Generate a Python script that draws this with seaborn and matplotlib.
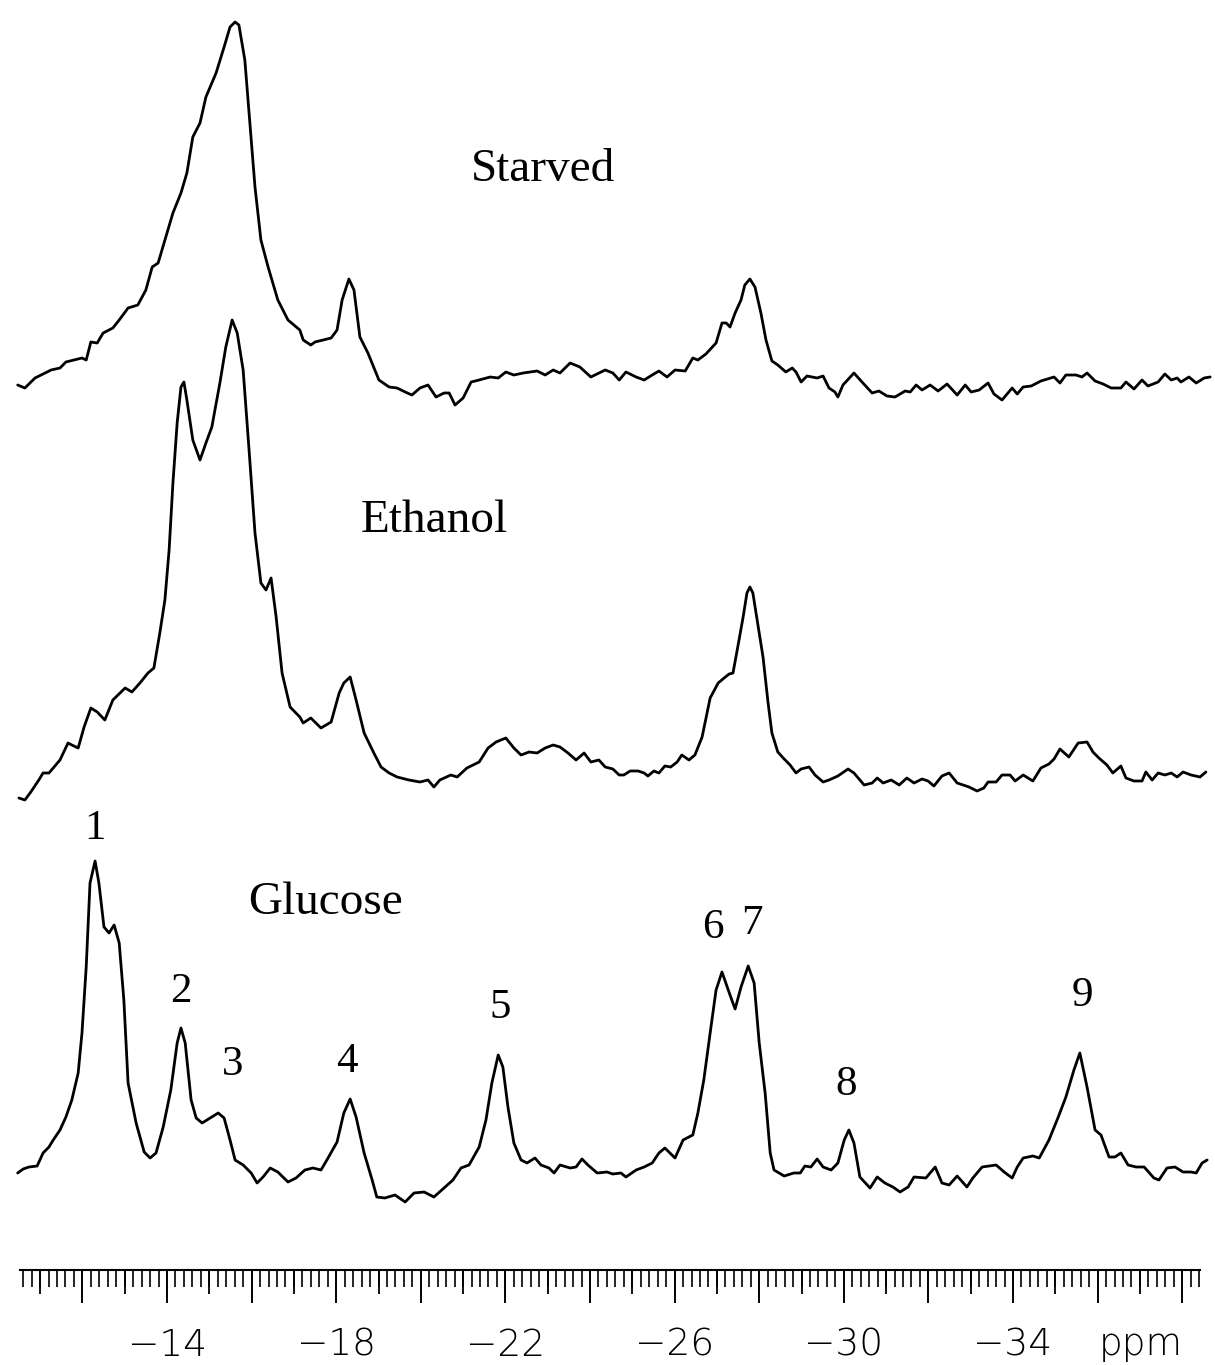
import numpy as np
import pandas as pd
import matplotlib
matplotlib.use("Agg")
import matplotlib.pyplot as plt
from matplotlib.ticker import FixedLocator, FuncFormatter
import seaborn as sns

# ---------------------------------------------------------------------------
# Spectra: chemical shift (ppm) and intensity (arbitrary units above baseline)
# ---------------------------------------------------------------------------
starved_ppm = [
    -10.47, -10.64, -10.88, -11.26, -11.47, -11.61, -11.99, -12.09, -12.20, -12.35,
    -12.49, -12.72, -12.87, -13.08, -13.31, -13.50, -13.65, -13.79, -14.00, -14.14,
    -14.33, -14.47, -14.61, -14.78, -14.92, -15.16, -15.35, -15.49, -15.61, -15.70,
    -15.84, -15.99, -16.08, -16.22, -16.39, -16.62, -16.86, -17.14, -17.22, -17.40,
    -17.50, -17.88, -18.02, -18.14, -18.30, -18.42, -18.56, -18.75, -19.01, -19.25,
    -19.44, -19.63, -19.79, -19.98, -20.17, -20.36, -20.55, -20.67, -20.81, -21.00,
    -21.19, -21.38, -21.64, -21.83, -22.01, -22.20, -22.42, -22.75, -22.94, -23.13,
    -23.29, -23.53, -23.76, -24.02, -24.36, -24.54, -24.69, -24.85, -25.09, -25.28,
    -25.47, -25.63, -25.82, -26.01, -26.25, -26.43, -26.55, -26.74, -26.98, -27.12,
    -27.22, -27.31, -27.43, -27.57, -27.66, -27.78, -27.90, -28.04, -28.16, -28.30,
    -28.44, -28.63, -28.78, -28.87, -28.99, -29.13, -29.37, -29.51, -29.65, -29.79,
    -29.86, -29.98, -30.24, -30.43, -30.67, -30.83, -31.02, -31.21, -31.45, -31.57,
    -31.71, -31.85, -32.04, -32.23, -32.44, -32.68, -32.87, -33.01, -33.20, -33.41,
    -33.55, -33.74, -33.98, -34.10, -34.24, -34.43, -34.66, -34.97, -35.11, -35.25,
    -35.49, -35.63, -35.75, -35.94, -36.13, -36.32, -36.55, -36.67, -36.86, -37.05,
    -37.19, -37.43, -37.59, -37.74, -37.88, -37.97, -38.16, -38.33, -38.52, -38.66,
]
starved_int = [
    15, 12, 22, 30, 32, 38, 42, 40, 58, 57,
    67, 72, 80, 92, 95, 110, 133, 137, 167, 187,
    207, 227, 263, 277, 303, 327, 353, 373, 378, 375,
    340, 260, 213, 160, 133, 100, 80, 70, 60, 55,
    58, 62, 70, 100, 121, 110, 63, 47, 20, 13,
    12, 8, 5, 12, 15, 3, 7, 7, -5, 2,
    18, 20, 23, 22, 28, 25, 27, 29, 25, 30,
    27, 37, 33, 23, 30, 27, 20, 28, 23, 20,
    25, 29, 23, 30, 29, 42, 40, 46, 57, 77,
    77, 73, 87, 100, 115, 121, 113, 87, 60, 39,
    35, 28, 32, 28, 18, 24, 22, 24, 12, 8,
    3, 15, 27, 18, 7, 9, 4, 3, 9, 8,
    15, 10, 15, 9, 16, 5, 15, 8, 10, 17,
    6, 0, 12, 6, 13, 14, 19, 23, 17, 25,
    25, 23, 27, 19, 16, 12, 12, 18, 11, 20,
    14, 18, 26, 20, 22, 18, 23, 17, 22, 23,
]

ethanol_ppm = [
    -10.50, -10.64, -10.78, -10.97, -11.07, -11.21, -11.33, -11.47, -11.66, -11.75,
    -11.90, -12.04, -12.20, -12.35, -12.53, -12.72, -13.01, -13.17, -13.36, -13.55,
    -13.69, -13.83, -13.95, -14.05, -14.14, -14.24, -14.33, -14.40, -14.47, -14.61,
    -14.78, -14.92, -15.06, -15.25, -15.39, -15.54, -15.66, -15.80, -15.94, -16.08,
    -16.22, -16.34, -16.46, -16.58, -16.72, -16.91, -17.14, -17.22, -17.40, -17.64,
    -17.88, -18.07, -18.18, -18.33, -18.47, -18.66, -18.89, -19.06, -19.25, -19.44,
    -19.72, -19.98, -20.17, -20.31, -20.45, -20.71, -20.86, -21.09, -21.38, -21.59,
    -21.78, -22.01, -22.20, -22.37, -22.56, -22.75, -22.94, -23.13, -23.29, -23.48,
    -23.67, -23.86, -24.02, -24.21, -24.36, -24.54, -24.69, -24.80, -24.95, -25.14,
    -25.28, -25.37, -25.51, -25.63, -25.77, -25.91, -26.06, -26.17, -26.34, -26.48,
    -26.65, -26.84, -27.03, -27.17, -27.29, -27.38, -27.48, -27.62, -27.71, -27.78,
    -27.85, -27.99, -28.09, -28.21, -28.30, -28.44, -28.59, -28.73, -28.87, -28.99,
    -29.18, -29.32, -29.51, -29.65, -29.86, -30.10, -30.24, -30.48, -30.67, -30.79,
    -30.93, -31.12, -31.31, -31.49, -31.66, -31.85, -31.99, -32.13, -32.32, -32.49,
    -32.68, -32.96, -33.15, -33.31, -33.41, -33.60, -33.74, -33.93, -34.05, -34.24,
    -34.47, -34.66, -34.85, -34.97, -35.11, -35.32, -35.54, -35.75, -35.89, -36.03,
    -36.22, -36.36, -36.55, -36.67, -36.86, -37.05, -37.14, -37.29, -37.43, -37.59,
    -37.74, -37.88, -38.02, -38.21, -38.42, -38.56,
]
ethanol_int = [
    2, 0, 8, 20, 27, 27, 33, 40, 57, 55,
    52, 73, 92, 88, 80, 100, 112, 108, 117, 127,
    132, 167, 200, 250, 317, 377, 413, 418, 400, 360,
    340, 357, 373, 417, 453, 480, 467, 430, 350, 267,
    217, 210, 222, 183, 127, 93, 83, 77, 82, 72,
    78, 107, 117, 123, 100, 67, 47, 33, 27, 23,
    20, 18, 20, 13, 20, 25, 23, 32, 38, 52,
    58, 62, 52, 45, 48, 47, 52, 55, 53, 47,
    40, 47, 38, 40, 33, 31, 25, 25, 29, 29,
    27, 24, 29, 27, 34, 33, 38, 45, 40, 45,
    63, 102, 117, 122, 126, 127, 150, 183, 207, 213,
    207, 170, 143, 97, 67, 48, 41, 35, 27, 31,
    33, 25, 18, 20, 24, 31, 27, 15, 17, 22,
    17, 20, 15, 22, 17, 21, 19, 14, 24, 27,
    17, 13, 9, 12, 18, 18, 25, 25, 19, 25,
    19, 32, 36, 41, 51, 43, 57, 58, 48, 42,
    35, 27, 34, 22, 19, 19, 28, 20, 27, 25,
    27, 23, 28, 25, 23, 28,
]

glucose_ppm = [
    -10.47, -10.60, -10.74, -10.93, -11.07, -11.21, -11.31, -11.47, -11.61, -11.75,
    -11.90, -11.99, -12.09, -12.18, -12.30, -12.39, -12.51, -12.63, -12.75, -12.87,
    -12.98, -13.08, -13.27, -13.46, -13.60, -13.74, -13.91, -14.09, -14.24, -14.33,
    -14.43, -14.57, -14.69, -14.83, -15.02, -15.21, -15.35, -15.49, -15.61, -15.80,
    -15.99, -16.13, -16.27, -16.44, -16.62, -16.86, -17.05, -17.26, -17.45, -17.64,
    -17.78, -18.02, -18.18, -18.33, -18.47, -18.66, -18.85, -18.96, -19.15, -19.39,
    -19.63, -19.84, -20.08, -20.31, -20.55, -20.76, -20.95, -21.14, -21.38, -21.54,
    -21.68, -21.83, -21.94, -22.06, -22.20, -22.37, -22.51, -22.70, -22.84, -23.03,
    -23.15, -23.29, -23.53, -23.67, -23.81, -23.95, -24.17, -24.40, -24.54, -24.73,
    -24.85, -25.09, -25.28, -25.47, -25.63, -25.77, -26.01, -26.20, -26.43, -26.55,
    -26.69, -26.84, -26.98, -27.12, -27.31, -27.43, -27.57, -27.74, -27.88, -28.00,
    -28.14, -28.26, -28.35, -28.59, -28.82, -28.97, -29.08, -29.22, -29.37, -29.51,
    -29.70, -29.86, -30.01, -30.12, -30.24, -30.38, -30.62, -30.79, -30.97, -31.16,
    -31.33, -31.52, -31.66, -31.94, -32.16, -32.32, -32.49, -32.68, -32.91, -33.05,
    -33.27, -33.60, -33.79, -33.98, -34.10, -34.24, -34.47, -34.62, -34.85, -35.07,
    -35.25, -35.44, -35.58, -35.75, -35.94, -36.08, -36.27, -36.41, -36.55, -36.72,
    -36.91, -37.10, -37.33, -37.45, -37.64, -37.83, -38.02, -38.21, -38.33, -38.47,
    -38.59,
]
glucose_int = [
    37, 41, 43, 44, 57, 63, 70, 80, 93, 110,
    137, 177, 243, 327, 349, 327, 283, 277, 285, 267,
    210, 127, 87, 58, 52, 57, 83, 120, 167, 182,
    167, 110, 92, 87, 92, 97, 92, 70, 50, 45,
    37, 27, 33, 42, 38, 28, 32, 40, 42, 40,
    50, 68, 97, 111, 93, 57, 30, 13, 12, 15,
    8, 17, 18, 13, 22, 30, 42, 45, 63, 90,
    127, 155, 143, 103, 67, 50, 47, 52, 45, 42,
    37, 45, 42, 43, 51, 45, 37, 38, 36, 37,
    33, 40, 43, 47, 57, 62, 52, 70, 75, 97,
    130, 177, 220, 238, 215, 201, 223, 244, 227, 167,
    117, 57, 40, 34, 37, 37, 44, 43, 51, 43,
    40, 47, 70, 80, 67, 33, 22, 33, 27, 23,
    18, 23, 33, 32, 43, 27, 25, 34, 23, 32,
    43, 45, 38, 32, 43, 52, 54, 52, 70, 93,
    113, 140, 157, 123, 80, 75, 53, 53, 57, 45,
    43, 43, 32, 30, 42, 43, 38, 38, 37, 47,
    50,
]

conditions = ["Starved", "Ethanol", "Glucose"]
peak_numbers = ["1", "2", "3", "4", "5", "6", "7", "8", "9"]
axis_labels = [-14, -18, -22, -26, -30, -34]

# ---------------------------------------------------------------------------
# Layout (figure pixels: 1215 x 1365)
# ---------------------------------------------------------------------------
W, H = 1215, 1365
PPM_LEFT, PPM_RIGHT = -10.052, -38.775
trace_offsets = {"Starved": 965, "Ethanol": 565, "Glucose": 155}
condition_label_xy = {"Starved": (543, 170), "Ethanol": (434, 521), "Glucose": (326, 903)}
peak_label_xy = [(95, 829), (181, 992), (233, 1065), (347, 1062), (500, 1008),
                 (713, 928), (752, 924), (846, 1085), (1082, 996)]

sns.set_style("white")
plt.rcParams.update({
    "font.family": ["DejaVu Sans"],
    "text.color": "black",
    "xtick.color": "black",
    "xtick.bottom": True,
    "axes.edgecolor": "black",
})

fig = plt.figure(figsize=(W / 100, H / 100), dpi=100)
ax = fig.add_axes([0, 0, 1, 1])
ax.set_xlim(PPM_LEFT, PPM_RIGHT)
ax.set_ylim(0, H)
ax.axis("off")

spectra = {
    "Starved": (starved_ppm, starved_int),
    "Ethanol": (ethanol_ppm, ethanol_int),
    "Glucose": (glucose_ppm, glucose_int),
}
frames = []
for name in conditions:
    ppm, inten = spectra[name]
    frames.append(pd.DataFrame({
        "ppm": ppm,
        "y": np.asarray(inten, float) + trace_offsets[name],
        "condition": name,
    }))
df = pd.concat(frames, ignore_index=True)

for name in conditions:
    sub = df[df["condition"] == name]
    sns.lineplot(data=sub, x="ppm", y="y", ax=ax, color="black", linewidth=2.0,
                 sort=False, estimator=None, legend=False)
for ln in ax.get_lines():
    ln.set_solid_joinstyle("round")
    ln.set_solid_capstyle("round")

serif = ["Liberation Serif", "DejaVu Serif"]
for name in conditions:
    px, py = condition_label_xy[name]
    ax.text(px / W, 1 - py / H, name, transform=ax.transAxes, ha="center", va="center",
            fontsize=34, family=serif, color="black")
for lab, (px, py) in zip(peak_numbers, peak_label_xy):
    ax.text(px / W, 1 - py / H, lab, transform=ax.transAxes, ha="center", va="center",
            fontsize=31, family=serif, color="black")

# ---------------------------------------------------------------------------
# ppm ruler: long ticks every 2 ppm, medium every odd ppm, short every 0.2 ppm
# ---------------------------------------------------------------------------
ruler_y = 1 - 1270 / H
ruler = fig.add_axes([0, ruler_y, 1, 0.0005])
ruler_mid = fig.add_axes([0, ruler_y, 1, 0.0005])
for r in (ruler, ruler_mid):
    r.set_xlim(PPM_LEFT, PPM_RIGHT)
    r.set_ylim(0, 1)
    r.patch.set_alpha(0)
    r.set_yticks([])
    for s in ("top", "left", "right"):
        r.spines[s].set_visible(False)
ruler.spines["bottom"].set_linewidth(1.5)
ruler.spines["bottom"].set_bounds(-10.52, -38.42)
ruler_mid.spines["bottom"].set_visible(False)

long_ticks = list(range(-12, -39, -2))
mid_ticks = list(range(-11, -38, -2))
short_ticks = [round(-10.6 - 0.2 * i, 1) for i in range(140)]
ruler.xaxis.set_major_locator(FixedLocator(long_ticks))
ruler.xaxis.set_minor_locator(FixedLocator(short_ticks))
ruler.xaxis.set_major_formatter(
    FuncFormatter(lambda v, p: "\u2212" + str(abs(int(round(v)))) if int(round(v)) in axis_labels else ""))
ruler.tick_params(axis="x", which="major", bottom=True, direction="out", length=23.5, width=1.4,
                  pad=18, labelsize=27, colors="black")
ruler.tick_params(axis="x", which="minor", bottom=True, direction="out", length=12, width=1.2,
                  colors="black")
ruler_mid.xaxis.set_major_locator(FixedLocator(mid_ticks))
ruler_mid.xaxis.set_minor_locator(FixedLocator([]))
ruler_mid.tick_params(axis="x", which="major", bottom=True, direction="out", length=17, width=1.3,
                      labelbottom=False, colors="black")
for t in ruler.get_xticklabels():
    t.set_fontweight("light")
fig.text(1141 / W, 1 - 1345 / H, "ppm", ha="center", va="center",
         fontsize=27, fontweight="light", color="black")

fig.savefig("out.png", dpi=100)
